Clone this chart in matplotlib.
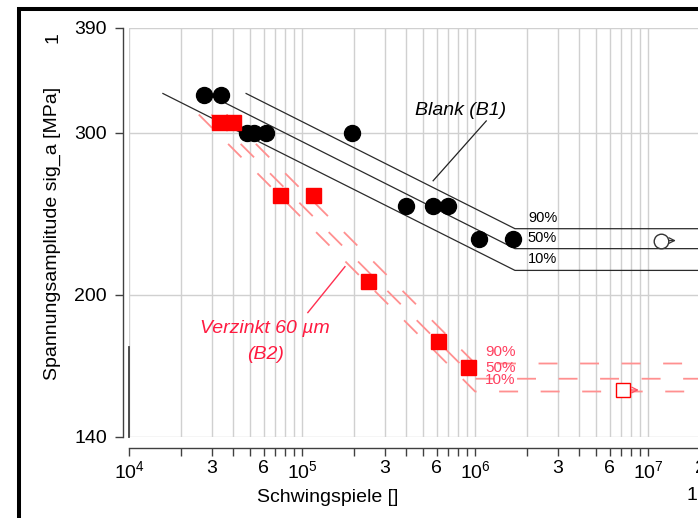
import matplotlib
matplotlib.use('Agg')
import matplotlib.pyplot as plt
from matplotlib.ticker import LogLocator, NullLocator, FuncFormatter
from matplotlib.patches import Rectangle

plt.rcParams['font.family'] = ['Liberation Sans', 'DejaVu Sans']
plt.rcParams['mathtext.fontset'] = 'custom'
plt.rcParams['mathtext.rm'] = 'Liberation Sans'
plt.rcParams['mathtext.it'] = 'Liberation Sans:italic'

# test points, blank (B1)
b1_cycles = [2.7e4, 3.4e4, 4.8e4, 5.3e4, 6.2e4, 1.95e5, 4.0e5, 5.7e5, 7.0e5, 1.05e6, 1.65e6]
b1_stress = [330, 330, 300, 300, 300, 300, 250, 250, 250, 230, 230]
b1_runout_cycles = [1.18e7]
b1_runout_stress = [229]

# test points, galvanized 60 um (B2)
b2_cycles = [3.3e4, 4.0e4, 7.5e4, 1.15e5, 2.4e5, 6.1e5, 9.1e5]
b2_stress = [308, 308, 257, 257, 207, 178, 167]
b2_runout_cycles = [7.2e6]
b2_runout_stress = [157.5]

# S-N scatter bands (10 / 50 / 90 %)
band_labels = ['10%', '50%', '90%']
b1_band_start = [1.57e4, 2.8e4, 4.75e4]
b1_band_start_stress = 331
b1_band_knee = 1.7e6
b1_band_knee_stress = [212.5, 224.4, 235.9]

b2_band_start = [2.53e4, 2.99e4, 3.66e4]
b2_band_start_stress = 314
b2_band_knee = 1.0e6
b2_band_knee_stress = [156.9, 162.0, 168.3]

band_end = 3e7
y_ticks = [140, 200, 300, 390]

W, H = 698, 518
fig = plt.figure(figsize=(W / 100, H / 100), dpi=100)
ax = fig.add_axes([129 / W, 1 - 437 / H, 572 / W, 409 / H])
ax.set_xscale('log')
ax.set_yscale('log')
ax.set_xlim(1e4, 2.02e7)
ax.set_ylim(140, 390)

# axes styling
for s in ['top', 'right']:
    ax.spines[s].set_visible(False)
ax.spines['left'].set_position(('outward', 4.3))
ax.spines['bottom'].set_position(('outward', 8))
for s in ['left', 'bottom']:
    ax.spines[s].set_color('#404040')
    ax.spines[s].set_linewidth(1.0)

ax.set_yticks(y_ticks)
ax.set_yticklabels([str(v) for v in y_ticks])
ax.yaxis.set_minor_locator(NullLocator())
ax.xaxis.set_major_locator(LogLocator(base=10))
ax.xaxis.set_minor_locator(LogLocator(base=10, subs=range(2, 10)))


def minor_fmt(x, pos):
    m = round(x / 10 ** int(f'{x:e}'.split('e')[1]))
    if m in (3, 6):
        return str(m)
    if m == 2 and x > 1.5e7:
        return '2'
    return ''


ax.xaxis.set_minor_formatter(FuncFormatter(minor_fmt))
ax.tick_params(which='both', direction='out', length=5.5, width=1.0,
               color='#404040', labelsize=14)
ax.tick_params(axis='y', pad=6)
ax.tick_params(axis='x', which='both', pad=3)

ax.grid(True, which='both', color='#d0d0d0', lw=1.0)
ax.set_axisbelow(True)

# B1 band lines
for i, lab in enumerate(band_labels):
    xs = [b1_band_start[i], b1_band_knee, band_end]
    ys = [b1_band_start_stress, b1_band_knee_stress[i], b1_band_knee_stress[i]]
    ax.plot(xs, ys, color='#2b2b2b', lw=0.9, zorder=2)
    ax.annotate(lab, (2.02e6, b1_band_knee_stress[i]), xytext=(0, 8),
                textcoords='offset points', fontsize=10.5, va='center', ha='left')

# B2 band lines
for i, lab in enumerate(band_labels):
    xs = [b2_band_start[i], b2_band_knee, band_end]
    ys = [b2_band_start_stress, b2_band_knee_stress[i], b2_band_knee_stress[i]]
    ax.plot(xs, ys, color='#ff9090', lw=1.3, ls=(0, (10.5, 12.5)), zorder=2)
    ax.annotate(lab, (1.14e6, b2_band_knee_stress[i]), xytext=(0, 8),
                textcoords='offset points', fontsize=11, va='center', ha='left',
                color='#ff4060')

# points
ax.plot(b1_cycles, b1_stress, 'o', color='black', ms=11.5, ls='none', zorder=4)
ax.plot(b2_cycles, b2_stress, 's', color='red', ms=10.8, ls='none', zorder=4)
ax.plot(b1_runout_cycles, b1_runout_stress, 'o', mfc='white', mec='#333333',
        ms=10.5, mew=1.0, ls='none', zorder=4)
ax.plot(b2_runout_cycles, b2_runout_stress, 's', mfc='white', mec='red',
        ms=10, mew=1.0, ls='none', zorder=4)
for n, s in zip(b1_runout_cycles, b1_runout_stress):
    ax.annotate('', xy=(n, s), xytext=(11, 0), textcoords='offset points',
                arrowprops=dict(arrowstyle='<-', color='#333333', lw=0.9,
                                shrinkA=0, shrinkB=5.5))
for n, s in zip(b2_runout_cycles, b2_runout_stress):
    ax.annotate('', xy=(n, s), xytext=(11, 0), textcoords='offset points',
                arrowprops=dict(arrowstyle='<-', color='#ff5060', lw=0.9,
                                shrinkA=0, shrinkB=5.5))

# labels with leader lines
ax.text(8.2e5, 317.5, 'Blank (B1)', fontsize=14, style='italic',
        ha='center', va='center')
ax.plot([1.16e6, 5.72e5], [309, 266], color='#222222', lw=0.9)
ax.text(6.11e4, 183.8, 'Verzinkt 60 µm', fontsize=14, style='italic',
        ha='center', va='center', color='#ff1a40')
ax.text(6.11e4, 172.1, '(B2)', fontsize=14, style='italic',
        ha='center', va='center', color='#ff1a40')
ax.plot([1.77e5, 1.08e5], [214.5, 191.2], color='#ff3050', lw=1.0)

# dark marker at left edge of grid
ax.plot([1e4, 1e4], [140, 175.6], color='#404040', lw=1.3, clip_on=False)

# outer frame and figure texts
fig.patches.append(Rectangle((19 / W, -1), 2, 2 - 9 / H, transform=fig.transFigure,
                             fill=False, ec='black', lw=2.9))
fig.text(52 / W, 1 - 233 / H, 'Spannungsamplitude sig_a [MPa]', rotation=90,
         ha='center', va='center', fontsize=14)
fig.text(53 / W, 1 - 38 / H, '1', rotation=90, ha='center', va='center', fontsize=14)
fig.text(328 / W, 1 - 497 / H, 'Schwingspiele []', ha='center', va='center', fontsize=14)
fig.text(687 / W, 1 - 496 / H, '1', ha='left', va='center', fontsize=14)

fig.savefig('out.png', dpi=100)
